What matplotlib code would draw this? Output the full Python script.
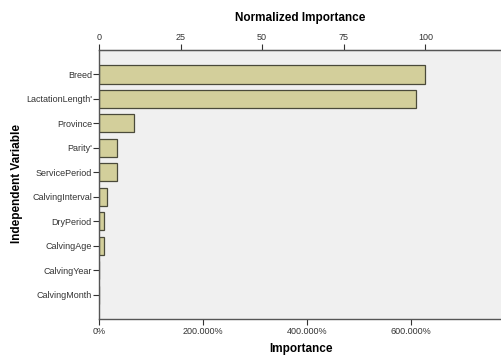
import matplotlib.pyplot as plt
from matplotlib.ticker import FuncFormatter

plt.rcParams['font.family'] = ['Liberation Sans', 'DejaVu Sans']

# variáveis e importância (%)
variaveis = ['Breed', "LactationLength'", 'Province', "Parity'", 'ServicePeriod',
             'CalvingInterval', 'DryPeriod', 'CalvingAge', 'CalvingYear', 'CalvingMonth']
importancia = [627.0, 609.5, 67.0, 34.0, 34.5, 16.0, 10.5, 9.0, 0.4, 0.2]
ticks_imp = [0, 200, 400, 600]
ticks_norm = [0, 25, 50, 75, 100]

max_imp = max(importancia)

fig = plt.figure(figsize=(5.02, 3.55), dpi=100)
ax = fig.add_axes([0.197, 0.1014, 0.805, 0.7577])
ax.set_facecolor('#f0f0f0')

y = list(range(len(variaveis)))
ax.barh(y, importancia, height=0.74, color='#d3cf9b', edgecolor='#4a4a3a', linewidth=0.9)

ax.set_ylim(len(variaveis), -1)
ax.set_xlim(0, 776)
ax.set_yticks(y)
ax.set_yticklabels(variaveis, fontsize=6.5, color='#222222')
ax.set_xticks(ticks_imp)
ax.xaxis.set_major_formatter(FuncFormatter(lambda v, p: '0%' if v == 0 else '%.3f%%' % v))
ax.tick_params(axis='x', labelsize=6.5, length=4, width=0.8, colors='#333333', pad=2)
ax.tick_params(axis='y', length=4, width=0.8, colors='#333333', pad=1)
for s in ['left', 'bottom', 'top']:
    ax.spines[s].set_color('#555555')
    ax.spines[s].set_linewidth(1.0)
ax.spines['right'].set_visible(False)

top = ax.secondary_xaxis('top', functions=(lambda v: v / max_imp * 100, lambda n: n * max_imp / 100))
top.set_xticks(ticks_norm)
top.tick_params(labelsize=6.5, length=4, width=0.8, colors='#333333', pad=2)
top.spines['top'].set_color('#555555')

fig.text(0.598, 0.95, 'Normalized Importance', ha='center', va='center', fontsize=8.5, fontweight='bold')
fig.text(0.60, 0.016, 'Importance', ha='center', va='center', fontsize=8.5, fontweight='bold')
fig.text(0.034, 0.482, 'Independent Variable', ha='center', va='center', rotation=90,
         fontsize=8.5, fontweight='bold')

fig.savefig('out.png', dpi=100)
